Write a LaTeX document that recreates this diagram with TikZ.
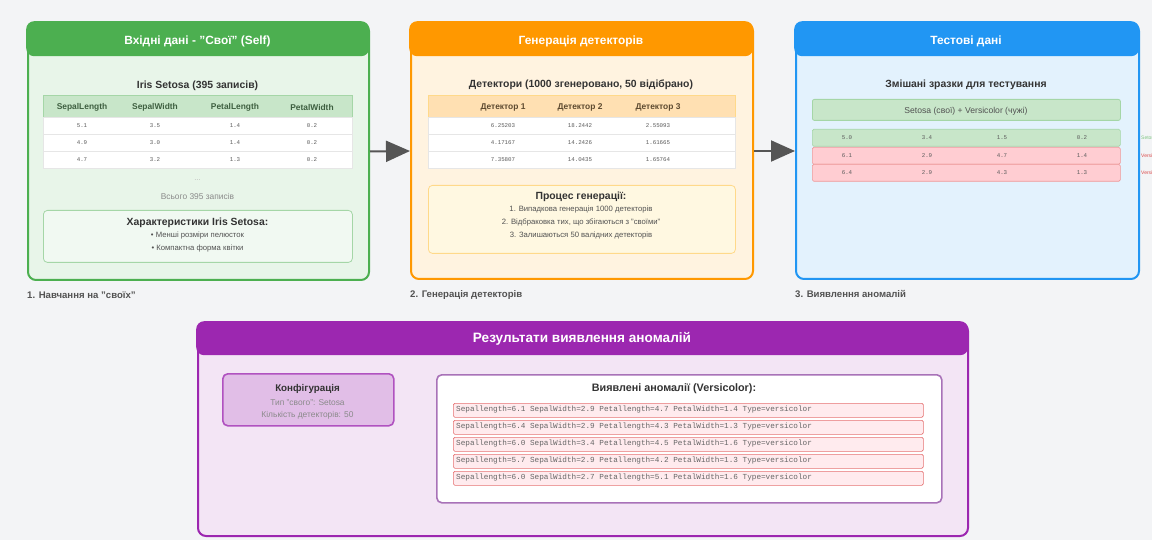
\documentclass[tikz,border=0pt]{standalone}
\usepackage{fontspec}
\setmainfont{Liberation Sans}
\setmonofont{Liberation Mono}
\usetikzlibrary{arrows.meta}
\definecolor{cBg}{HTML}{F3F4F6}
\definecolor{cGreen}{HTML}{4CAF50}
\definecolor{cGreenBody}{HTML}{E8F5E9}
\definecolor{cGreenHdr}{HTML}{C8E6C9}
\definecolor{cGreenL}{HTML}{A5D6A7}
\definecolor{cGreenTxt}{HTML}{3E5F40}
\definecolor{cOrange}{HTML}{FF9800}
\definecolor{cOrangeBody}{HTML}{FFF3E0}
\definecolor{cOrangeHdr}{HTML}{FFE0B2}
\definecolor{cOrangeBox}{HTML}{FFF8E1}
\definecolor{cOrangeL}{HTML}{FFD98A}
\definecolor{cOrangeTxt}{HTML}{5D4A30}
\definecolor{cBlue}{HTML}{2196F3}
\definecolor{cBlueBody}{HTML}{E3F2FD}
\definecolor{cPurple}{HTML}{9C27B0}
\definecolor{cPurpleBody}{HTML}{F3E5F5}
\definecolor{cPurpleBox}{HTML}{E1BEE7}
\definecolor{cPurpleL}{HTML}{A872B8}
\definecolor{cRed}{HTML}{FFCDD2}
\definecolor{cRedL}{HTML}{EF9A9A}
\definecolor{cRowRed}{HTML}{FFEBEE}
\definecolor{cRowRedL}{HTML}{E57373}
\definecolor{cTxt}{HTML}{333333}
\definecolor{cGray}{HTML}{8A8A8A}
\definecolor{cRowL}{HTML}{E6E6E6}
\definecolor{cArrow}{HTML}{555555}
\tikzset{
  panel/.style={draw, line width=2pt, rounded corners=8pt, anchor=north west, inner sep=0pt},
  hdr/.style={rounded corners=8pt, anchor=north west, inner sep=0pt},
  hdrtext/.style={inner sep=0pt, text=white, font=\bfseries\fontsize{11.9}{14}\selectfont},
  sub/.style={text=cTxt, font=\bfseries\fontsize{10.4}{12}\selectfont, inner sep=0pt, yshift=-1.5pt},
  tbox/.style={anchor=north west, inner sep=0pt, line width=0.6pt},
  ibox/.style={anchor=north west, inner sep=0pt, line width=0.8pt, rounded corners=4pt},
  th/.style={font=\bfseries\fontsize{8.4}{9}\selectfont, inner sep=0pt, yshift=-1pt},
  val/.style={font=\ttfamily\fontsize{5.8}{7}\selectfont, text=cTxt!80, inner sep=0pt},
  small/.style={font=\fontsize{7.7}{9}\selectfont, text=cTxt!85, inner sep=0pt, yshift=-1.5pt},
  lbl/.style={anchor=west, font=\bfseries\fontsize{9.6}{11}\selectfont, text=cTxt!85, inner sep=0pt, yshift=-1pt},
  arr/.style={draw=cArrow, line width=2pt, -{Triangle[length=24pt,width=21pt]}},
  anrow/.style={anchor=north west, inner sep=0pt, draw=cRowRedL, fill=cRowRed, line width=0.7pt, rounded corners=1.5pt, minimum width=470pt, minimum height=14pt},
  antext/.style={anchor=west, font=\ttfamily\fontsize{7.7}{8}\selectfont, text=cTxt!75, inner sep=0pt}
}
\begin{document}
\begin{tikzpicture}[x=1pt,y=-1pt]
\useasboundingbox (0,0) rectangle (1152,540);
\fill[cBg] (0,0) rectangle (1152,540);

% ---------------- Panel 1 ----------------
\node[panel, draw=cGreen, fill=cGreenBody, minimum width=341pt, minimum height=257pt] (p1) at (27,22) {};
\node[hdr, fill=cGreen, minimum width=343pt, minimum height=35pt] (h1) at (26,21) {};
\node[hdrtext] (h1t) at (197.5,41) {Вхідні дані - "Свої" (Self)};
\node[sub] (s1) at (197.5,84) {Iris Setosa (395 записів)};
\node[tbox, fill=cGreenHdr, draw=cGreenL, minimum width=309pt, minimum height=22pt] (th1) at (43,95) {};
\foreach \i/\x/\n in {1/82/SepalLength, 2/155/SepalWidth, 3/235/PetalLength, 4/312/PetalWidth}{
  \node[th, text=cGreenTxt] (th1c\i) at (\x,106) {\n};
}
\foreach \r/\y/\a/\b/\c/\d in {1/117/5.1/3.5/1.4/0.2, 2/134/4.9/3.0/1.4/0.2, 3/151/4.7/3.2/1.3/0.2}{
  \node[tbox, fill=white, draw=cRowL, minimum width=309pt, minimum height=17pt] (t1r\r) at (43,\y) {};
  \node[val] (t1r\r-a) at (82,{\y+8.5}) {\a};
  \node[val] (t1r\r-b) at (155,{\y+8.5}) {\b};
  \node[val] (t1r\r-c) at (235,{\y+8.5}) {\c};
  \node[val] (t1r\r-d) at (312,{\y+8.5}) {\d};
}
\node[small, text=cGray!60] (dots1) at (197.5,179) {...};
\node[small, text=cGray, font=\fontsize{8.4}{9}\selectfont] (tot1) at (197.5,195) {Всього 395 записів};
\node[ibox, fill=cGreenBody!60!white, draw=cGreenL, minimum width=309pt, minimum height=52pt] (cb1) at (43,210) {};
\node[sub] (cb1t) at (197.5,221) {Характеристики Iris Setosa:};
\node[small] (cb1a) at (197.5,234) {• Менші розміри пелюсток};
\node[small] (cb1b) at (197.5,247) {• Компактна форма квітки};
\node[lbl] (l1) at (27,294) {1. Навчання на "своїх"};

% ---------------- Panel 2 ----------------
\node[panel, draw=cOrange, fill=cOrangeBody, minimum width=342pt, minimum height=256pt] (p2) at (410,22) {};
\node[hdr, fill=cOrange, minimum width=344pt, minimum height=35pt] (h2) at (409,21) {};
\node[hdrtext] (h2t) at (581,41) {Генерація детекторів};
\node[sub] (s2) at (581,83) {Детектори (1000 згенеровано, 50 відібрано)};
\node[tbox, fill=cOrangeHdr, draw=cOrangeL, minimum width=307pt, minimum height=22pt] (th2) at (428,95) {};
\foreach \i/\x/\n in {1/503/Детектор 1, 2/580/Детектор 2, 3/658/Детектор 3}{
  \node[th, text=cOrangeTxt] (th2c\i) at (\x,106) {\n};
}
\foreach \r/\y/\a/\b/\c in {1/117/6.25203/18.2442/2.55093, 2/134/4.17167/14.2426/1.61665, 3/151/7.35807/14.0435/1.65764}{
  \node[tbox, fill=white, draw=cRowL, minimum width=307pt, minimum height=17pt] (t2r\r) at (428,\y) {};
  \node[val] (t2r\r-a) at (503,{\y+8.5}) {\a};
  \node[val] (t2r\r-b) at (580,{\y+8.5}) {\b};
  \node[val] (t2r\r-c) at (658,{\y+8.5}) {\c};
}
\node[ibox, fill=cOrangeBox, draw=cOrangeL, minimum width=307pt, minimum height=68pt] (pb2) at (428,185) {};
\node[sub] (pb2t) at (581,195) {Процес генерації:};
\node[small] (pb2a) at (581,208) {1. Випадкова генерація 1000 детекторів};
\node[small] (pb2b) at (581,221) {2. Відбраковка тих, що збігаються з "своїми"};
\node[small] (pb2c) at (581,234) {3. Залишаються 50 валідних детекторів};
\node[lbl] (l2) at (410,294) {2. Генерація детекторів};

% ---------------- Panel 3 ----------------
\node[panel, draw=cBlue, fill=cBlueBody, minimum width=343pt, minimum height=256pt] (p3) at (795,22) {};
\node[hdr, fill=cBlue, minimum width=345pt, minimum height=35pt] (h3) at (794,21) {};
\node[hdrtext] (h3t) at (966,41) {Тестові дані};
\node[sub] (s3) at (966,83) {Змішані зразки для тестування};
\node[ibox, fill=cGreenHdr, draw=cGreenL, minimum width=308pt, minimum height=21pt, rounded corners=2pt] (mix) at (812,99) {};
\node[small, font=\fontsize{8.6}{9}\selectfont] (mixt) at (966,109.5) {Setosa (свої) + Versicolor (чужі)};
\foreach \r/\y/\f/\dc/\a/\b/\c/\d/\lc/\lt in {1/129/cGreenHdr/cGreenL/5.0/3.4/1.5/0.2/cGreen/Setosa, 2/147/cRed/cRedL/6.1/2.9/4.7/1.4/red!80!black/Versicolor, 3/164/cRed/cRedL/6.4/2.9/4.3/1.3/red!80!black/Versicolor}{
  \node[tbox, fill=\f, draw=\dc, minimum width=308pt, minimum height=17pt, rounded corners=1.5pt] (t3r\r) at (812,\y) {};
  \node[val] (t3r\r-a) at (847,{\y+8.5}) {\a};
  \node[val] (t3r\r-b) at (927,{\y+8.5}) {\b};
  \node[val] (t3r\r-c) at (1002,{\y+8.5}) {\c};
  \node[val] (t3r\r-d) at (1082,{\y+8.5}) {\d};
  \node[anchor=west, inner sep=0pt, font=\fontsize{5}{6}\selectfont, text=\lc!70] (t3r\r-l) at (1141,{\y+8.5}) {\lt};
}
\node[lbl] (l3) at (795,293) {3. Виявлення аномалій};

% ---------------- Arrows ----------------
\draw[arr] (p1.east) -- (p2.west);
\draw[arr] (p2.east) -- (p3.west);

% ---------------- Panel 4 ----------------
\node[panel, draw=cPurple, fill=cPurpleBody, minimum width=770pt, minimum height=213pt] (p4) at (197,322) {};
\node[hdr, fill=cPurple, minimum width=772pt, minimum height=34pt] (h4) at (196,321) {};
\node[hdrtext, font=\bfseries\fontsize{13.6}{16}\selectfont] (h4t) at (582,339) {Результати виявлення аномалій};
\node[ibox, fill=cPurpleBox, draw=cPurple!80, line width=1.6pt, rounded corners=5pt, minimum width=171pt, minimum height=52pt] (cfg) at (222,373) {};
\node[sub, font=\bfseries\fontsize{9.8}{11}\selectfont] (cfgt) at (307.5,387) {Конфігурація};
\node[small, text=cGray, font=\fontsize{8.4}{9}\selectfont] (cfga) at (307.5,401) {Тип "свого": Setosa};
\node[small, text=cGray, font=\fontsize{8.4}{9}\selectfont] (cfgb) at (307.5,414) {Кількість детекторів: 50};
\node[ibox, fill=white, draw=cPurpleL, line width=1.6pt, rounded corners=5pt, minimum width=505pt, minimum height=128pt] (an) at (436,374) {};
\node[sub, font=\bfseries\fontsize{10.8}{12}\selectfont] (ant) at (674,387) {Виявлені аномалії (Versicolor):};
\foreach \r/\y/\t in {1/403/Sepallength=6.1 SepalWidth=2.9 Petallength=4.7 PetalWidth=1.4 Type=versicolor,
                      2/420/Sepallength=6.4 SepalWidth=2.9 Petallength=4.3 PetalWidth=1.3 Type=versicolor,
                      3/437/Sepallength=6.0 SepalWidth=3.4 Petallength=4.5 PetalWidth=1.6 Type=versicolor,
                      4/454/Sepallength=5.7 SepalWidth=2.9 Petallength=4.2 PetalWidth=1.3 Type=versicolor,
                      5/471/Sepallength=6.0 SepalWidth=2.7 Petallength=5.1 PetalWidth=1.6 Type=versicolor}{
  \node[anrow] (ar\r) at (453,\y) {};
  \node[antext] (ar\r-t) at (456,{\y+7}) {\t};
}
\end{tikzpicture}
\end{document}
